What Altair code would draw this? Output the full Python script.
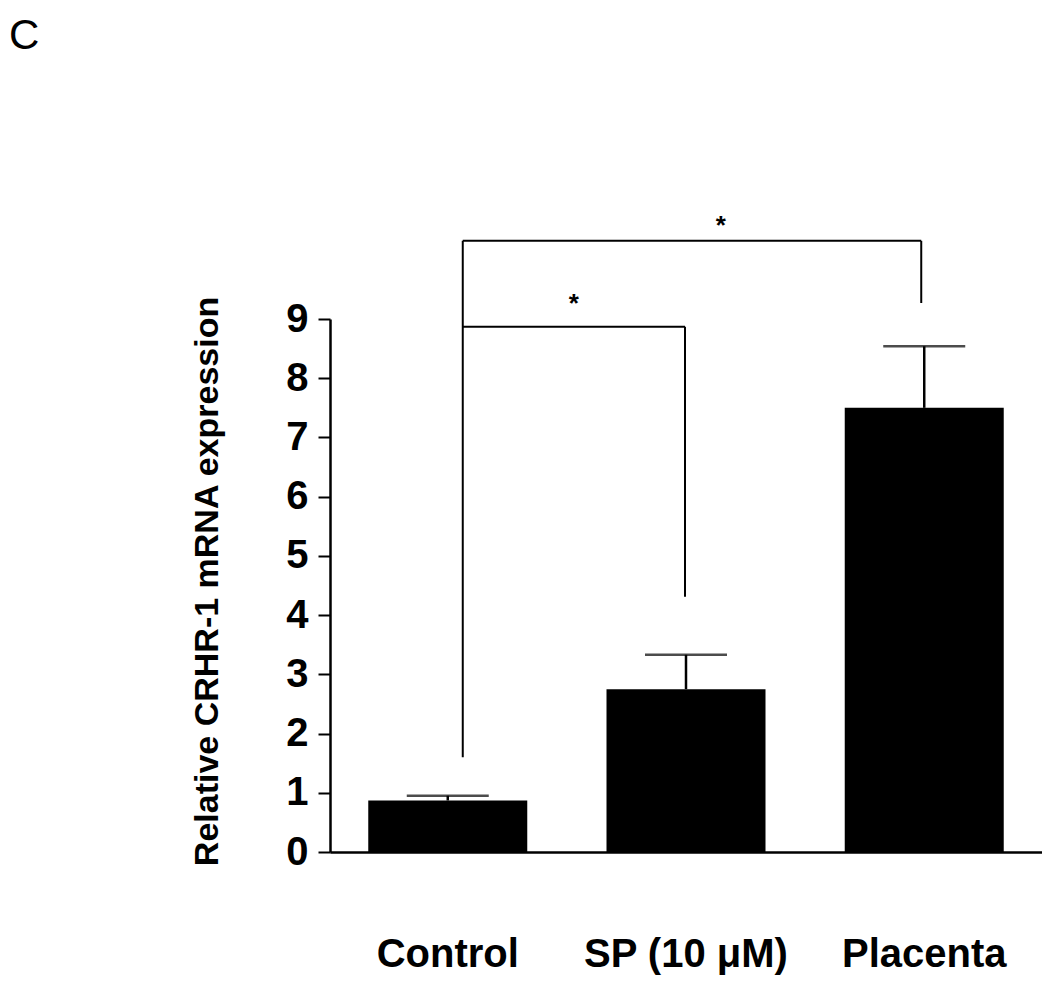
import altair as alt
import pandas as pd

# ---- data ----
categories = ["Control", "SP (10 μM)", "Placenta"]
means = [0.87, 2.75, 7.50]
sems = [0.08, 0.58, 1.04]

# significance bracket segments
seg_from = ["Control", "Control", "Placenta", "Control", "SP (10 μM)"]
seg_to = ["Control", "Placenta", "Placenta", "SP (10 μM)", "SP (10 μM)"]
seg_y = [1.6, 10.32, 10.32, 8.87, 8.87]
seg_y2 = [10.32, 10.32, 9.27, 8.87, 4.31]

star_labels = ["*", "*"]
star_anchor = ["Control", "Control"]
star_y = [10.43, 9.11]

panel_label = ["C"]

FONT = "Liberation Sans"

df = pd.DataFrame({
    "cat": categories,
    "mean": means,
    "top": [m + s for m, s in zip(means, sems)],
})

xscale = alt.Scale(domain=categories, paddingInner=0.3326, paddingOuter=0.1606)
yscale = alt.Scale(domain=[0, 9], nice=False, zero=True)

x_axis = alt.Axis(title=None, labelAngle=0, ticks=False, tickSize=0, labelPadding=82,
                  labelLimit=0, labelFont=FONT, labelFontSize=40, labelFontWeight="bold",
                  labelColor="black", domainColor="black", domainWidth=2.5, grid=False)
Y_TITLE = "Relative CRHR-1 mRNA expression"
y_axis = alt.Axis(title=Y_TITLE, values=list(range(10)),
                  tickSize=12, tickWidth=2, tickColor="black", domainColor="black",
                  domainWidth=2.5, labelFont=FONT, labelFontSize=40, labelFontWeight="bold",
                  labelColor="black", labelPadding=10, titleFont=FONT, titleFontSize=34,
                  titleFontWeight="bold", titleColor="black", titlePadding=61, titleY=262,
                  grid=False)


def X(field):
    return alt.X(field, scale=xscale, sort=categories, axis=x_axis, title=None)


def Y(field):
    return alt.Y(field, scale=yscale, axis=y_axis, title=Y_TITLE)


bars = alt.Chart(df).mark_bar(color="black").encode(x=X("cat:N"), y=Y("mean:Q"))

err_rule = alt.Chart(df).mark_rule(color="black", strokeWidth=2.5).encode(
    x=X("cat:N"), y=Y("mean:Q"), y2="top:Q")

err_cap = alt.Chart(df).mark_tick(color="black", size=82, thickness=2.5).encode(
    x=X("cat:N"), y=Y("top:Q"))

offset = {"Control": 15, "SP (10 μM)": -1, "Placenta": -3}
seg_layers = []
for a, b, y1, y2 in zip(seg_from, seg_to, seg_y, seg_y2):
    sdf = pd.DataFrame({"cat": [a], "b": [b], "y1": [y1], "y2": [y2]})
    seg_layers.append(
        alt.Chart(sdf).mark_rule(color="black", strokeWidth=2, xOffset=offset[a],
                                 x2Offset=offset[b]).encode(
            x=X("cat:N"), x2="b:N", y=Y("y1:Q"), y2="y2:Q"))

star_dx = [273, 126]
star_layers = []
for lab, anc, yy, dx in zip(star_labels, star_anchor, star_y, star_dx):
    sdf = pd.DataFrame({"lab": [lab], "cat": [anc], "y": [yy]})
    star_layers.append(
        alt.Chart(sdf).mark_text(font=FONT, fontSize=26, fontWeight="bold", color="black",
                                 baseline="alphabetic", dx=dx).encode(
            x=X("cat:N"), y=Y("y:Q"), text="lab:N"))

letter = alt.Chart(pd.DataFrame({"t": panel_label})).mark_text(
    font=FONT, fontSize=42, color="black", align="left", baseline="alphabetic").encode(
    x=alt.value(-321), y=alt.value(-270), text="t:N")

chart = alt.layer(bars, err_rule, err_cap, *seg_layers, *star_layers, letter).properties(
    width=712, height=533,
    autosize=alt.AutoSizeParams(type="none"),
    padding={"left": 322, "top": 311, "right": 0, "bottom": 128},
).configure(background="white").configure_view(stroke=None)

chart.save("out.html", embed_options={"renderer": "svg", "actions": False})
